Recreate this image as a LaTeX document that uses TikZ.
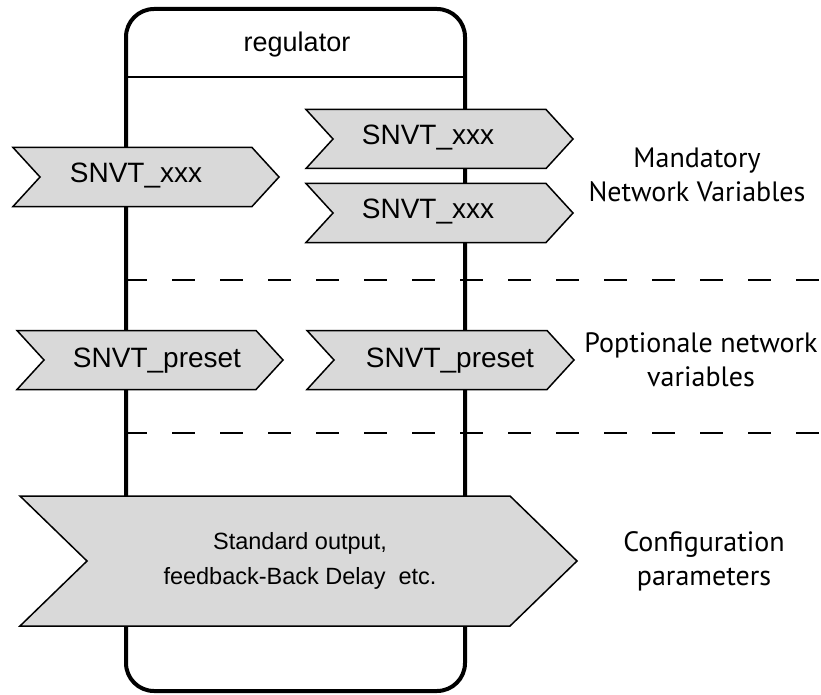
\documentclass[tikz,border=0pt]{standalone}
\usepackage{fontspec}
\setmainfont{Liberation Sans}
\newfontfamily\labelfont{PT Sans}
\usepackage{tikz}
\usetikzlibrary{positioning}
\definecolor{chevgray}{RGB}{217,217,217}

\begin{document}
\begin{tikzpicture}[x=1pt,y=-1pt,
  chev/.style={fill=chevgray,draw=black,line width=1.5pt,line join=miter},
  snvt/.style={font=\fontsize{28}{32}\selectfont},
  side/.style={font=\labelfont\fontsize{28}{34}\selectfont,align=center},
  sepline/.style={line width=1.5pt,dash pattern=on 23pt off 25pt}]
\useasboundingbox (0,0) rectangle (821,695);
% chevron: left x, tip x, middle y, half height, depth
\def\chev#1#2#3#4#5{\filldraw[chev] (#1,#3-#4) -- (#2-#5,#3-#4) -- (#2,#3) -- (#2-#5,#3+#4) -- (#1,#3+#4) -- (#1+#5,#3) -- cycle;}

\node[draw,line width=4pt,rounded corners=28pt,minimum width=339pt,minimum height=682pt] (reg) at (295.5,350) {};
\node[font=\fontsize{27}{32}\selectfont] (regname) at (297,45) {regulator};
\draw[line width=1.5pt] (reg.west |- 0,77) -- (reg.east |- 0,77);
\draw[sepline] (reg.west |- 0,280) -- (821,280);
\draw[sepline] (reg.west |- 0,433) -- (821,433);

% mandatory
\chev{13}{279}{177}{29.5}{27}
\chev{306}{573}{139}{29.5}{27}
\chev{306}{573}{213}{29.5}{27}
\node[snvt] (inxxx) at (136,175.5) {SNVT\_xxx};
\node[snvt] (outxxx) at (428,137.5) {SNVT\_xxx};
\node[snvt] (outxxxb) at (428,211.5) {SNVT\_xxx};

% optional
\chev{17}{283}{360}{29.5}{27}
\chev{307}{574}{360}{29.5}{27}
\node[snvt] (inpreset) at (157,361) {SNVT\_preset};
\node[snvt] (outpreset) at (450,361) {SNVT\_preset};

% configuration
\chev{20}{577}{561}{65}{67}
\node[align=center,font=\fontsize{23.5}{35}\selectfont] (cfgtext) at (300,561) {Standard output,\\feedback-Back Delay~~etc.};

\node[side] (mandatory) at (697,175) {Mandatory\\Network Variables};
\node[side] (optional) at (701,360) {Poptionale network\\variables};
\node[side] (config) at (704,561) {Configuration\\parameters};
\end{tikzpicture}
\end{document}
